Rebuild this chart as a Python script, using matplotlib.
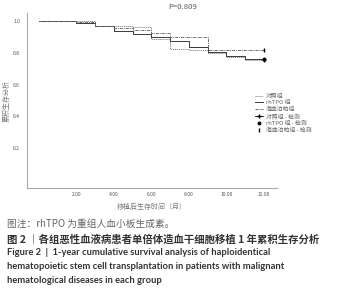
import matplotlib
matplotlib.use("Agg")
import matplotlib.pyplot as plt
from matplotlib.lines import Line2D

plt.rcParams['font.family'] = ['Noto Sans CJK SC', 'DejaVu Sans']

# data
groups = ["对照组", "rhTPO 组", "海曲泊帕组"]
censor_labels = ["对照组 - 检测", "rhTPO 组 - 检测", "海曲泊帕组 - 检测"]
t_control = [0, 3, 5, 6, 7, 8, 9, 10, 11, 12]
s_control = [1.0, 0.97, 0.96, 0.885, 0.825, 0.815, 0.80, 0.775, 0.752, 0.752]
t_rhtpo = [0, 2, 3, 4, 5, 6, 7, 8, 9, 10, 11, 12]
s_rhtpo = [1.0, 0.985, 0.965, 0.935, 0.92, 0.90, 0.875, 0.835, 0.805, 0.78, 0.758, 0.758]
t_hetro = [0, 2, 3, 4, 5, 6, 7, 9, 12]
s_hetro = [1.0, 0.99, 0.968, 0.958, 0.94, 0.925, 0.90, 0.817, 0.817]
x_ticks = [2, 4, 6, 8, 10, 12]
y_ticks = [0.2, 0.4, 0.6, 0.8, 1.0]
p_text = "P=0.809"

fig = plt.figure(figsize=(3.5, 3.0), dpi=100)
ax = fig.add_axes([0.077, 0.373, 0.714, 0.584])

styles = [
    dict(color="#8a8a8a", linestyle=(0, (1.2, 0.8)), linewidth=0.7),
    dict(color="#3a3a3a", linestyle="-", linewidth=0.7),
    dict(color="#6a6a6a", linestyle=(0, (3, 1, 1, 1)), linewidth=0.7),
]
series = [(t_control, s_control), (t_rhtpo, s_rhtpo), (t_hetro, s_hetro)]
for (t, s), st in zip(series, styles):
    ax.step(t, s, where="post", **st)

markers = ["+", "o", "|"]
msizes = [2.5, 1.8, 2.5]
for (t, s), m, ms in zip(series, markers, msizes):
    ax.plot([t[-1]], [s[-1]], marker=m, color="black", markersize=ms, markeredgewidth=1.0, linestyle="none")

ax.set_xlim(-0.64, 12.7)
ax.set_ylim(-0.05, 1.05)
ax.set_xticks(x_ticks)
ax.set_xticklabels([f"{v:.2f}" for v in x_ticks])
ax.set_yticks(y_ticks)
ax.set_yticklabels([f"{v:.1f}" for v in y_ticks])
ax.tick_params(length=0, labelsize=3.6, colors="#555555")
ax.tick_params(axis="y", pad=5)
ax.tick_params(axis="x", pad=3)
for side in ["top", "right"]:
    ax.spines[side].set_visible(False)
for side in ["left", "bottom"]:
    ax.spines[side].set_color("#aaaaaa")
    ax.spines[side].set_linewidth(0.8)

ax.set_ylabel("累积生存分析", fontsize=5, color="#777777", labelpad=2)
ax.set_xlabel("移植后生存时间（月）", fontsize=5, color="#777777", labelpad=4)
fig.text(0.522, 0.978, p_text, ha="center", va="center", fontsize=5.6, color="#555555", style="italic")

handles = [Line2D([], [], **st) for st in styles]
handles += [Line2D([], [], marker=m, color="black", markersize=ms, markeredgewidth=1.0,
                   linestyle="-" if m == "+" else "none", linewidth=0.6)
            for m, ms in zip(markers, msizes)]
leg = fig.legend(handles, groups + censor_labels, loc="upper left", bbox_to_anchor=(0.72, 0.700),
                 frameon=False, fontsize=4.2, handlelength=1.4, handletextpad=0.5,
                 labelspacing=0.25, borderpad=0)
for txt in leg.get_texts():
    txt.set_color("#666666")

fig.text(0.02, 0.253, "图注：rhTPO 为重组人血小板生成素。", fontsize=7, color="#666666", va="center")
fig.text(0.02, 0.203, "图 2 ｜各组恶性血液病患者单倍体造血干细胞移植 1 年累积生存分析", fontsize=7.5,
         color="#333333", va="center", fontweight="bold")
eng = ["Figure 2  |  1-year cumulative survival analysis of haploidentical",
       "hematopoietic stem cell transplantation in patients with malignant",
       "hematological diseases in each group"]
for i, line in enumerate(eng):
    fig.text(0.02, 0.157 - i * 0.046, line, fontsize=6.75, color="#333333", va="center",
             fontweight="bold", family=["Lato", "DejaVu Sans"])

fig.savefig("out.png", dpi=100)
